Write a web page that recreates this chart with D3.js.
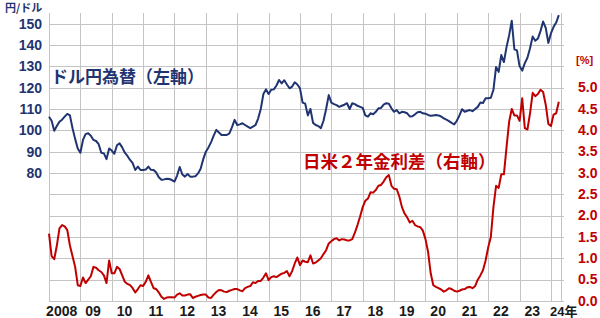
<!DOCTYPE html>
<html><head><meta charset="utf-8">
<script src="https://cdn.jsdelivr.net/npm/d3@7"></script>
<style>
html,body{margin:0;padding:0;background:#fff;}
svg{display:block;}
</style></head>
<body><svg id="c" width="600" height="318"></svg>
<script>
// ---- data (monthly, Jan 2008 – Apr 2024) ----
const startYear = 2008;
const usdjpy = [
 106.4,104.5,99.8,102,104,105,106.4,107.7,107,101,96,91.5,
 89.5,95.5,98.2,98.6,97.5,95.5,95,93.5,89.5,89.2,86.5,91.5,
 90.5,89,93,93.9,92,89.5,88,86.1,84.6,81.4,83,81.4,
 81.4,81.6,83,81.5,81.4,80.2,78,76.8,77,77.3,77.2,76.7,
 76,78.8,82.8,79.3,78.3,79.5,78.3,78.3,78.5,79.8,82,86.5,
 90,92,94.5,97.5,100.2,99,97.8,97.8,97.8,98.6,101.5,104.9,
 102.5,102.8,103.3,102.5,101.7,101,101.7,102.5,105.5,110,117,119.2,
 117,119,119.2,121,123.6,122,123.5,121.5,119.7,120.5,122.5,121.5,
 119.7,113,112.5,107,110,103.5,102.5,102,101,104.5,110,116.5,
 113,112.3,111.8,111,111.5,112,112.7,110,112.7,112.3,111.5,111,
 110.5,107,106.4,108,107.5,108.7,110.3,110.5,112,112.7,112.5,110.3,
 108.7,109.5,108,108.7,108.5,108,106.5,106.6,107.5,108.5,108.7,108,
 107.8,107.2,106.8,107,107.2,107,106.5,105.6,105,104.3,103.5,102.8,
 104.5,107,109.9,108.7,109.2,109.5,109,110,111,113,112.8,115,
 115,115.3,119,129.7,127.4,135.3,132,139,144.5,151.4,138,137.5,
 130,128,131.5,134,138.5,144,142,143,146.5,151,148,141,
 145.5,148.5,150.5,154
];
const spread = [
 1.58,1.05,0.98,1.3,1.7,1.78,1.75,1.66,1.3,1.05,0.8,0.37,
 0.35,0.55,0.42,0.5,0.58,0.8,0.78,0.72,0.68,0.6,0.42,0.95,
 0.65,0.65,0.8,0.75,0.6,0.45,0.4,0.37,0.3,0.2,0.28,0.37,
 0.35,0.45,0.6,0.45,0.3,0.28,0.2,0.1,0.05,0.08,0.09,0.09,
 0.08,0.15,0.18,0.13,0.13,0.15,0.16,0.07,0.1,0.12,0.14,0.15,
 0.15,0.08,0.07,0.15,0.21,0.26,0.25,0.22,0.21,0.24,0.26,0.28,
 0.28,0.25,0.23,0.3,0.33,0.35,0.44,0.42,0.47,0.47,0.55,0.65,
 0.49,0.56,0.58,0.56,0.6,0.64,0.66,0.7,0.58,0.7,0.88,1.02,
 0.84,0.95,0.92,0.91,1.07,0.88,0.9,0.95,1.0,1.1,1.19,1.35,
 1.4,1.45,1.47,1.42,1.45,1.44,1.42,1.42,1.45,1.6,1.78,1.98,
 2.2,2.35,2.4,2.55,2.54,2.6,2.7,2.72,2.8,2.9,2.95,2.7,
 2.63,2.62,2.45,2.2,2.05,1.96,1.84,1.88,1.78,1.75,1.73,1.65,
 1.45,1.15,0.65,0.37,0.33,0.3,0.27,0.22,0.25,0.3,0.28,0.24,
 0.22,0.24,0.27,0.28,0.32,0.33,0.3,0.35,0.5,0.6,0.72,0.95,
 1.26,1.5,2.2,2.7,2.65,2.97,2.97,3.6,4.2,4.5,4.35,4.35,
 4.22,4.75,4.05,4.02,4.4,4.88,4.8,4.85,4.95,4.9,4.6,4.15,
 4.1,4.37,4.4,4.67
];
const yearTicks = [2008,2009,2010,2011,2012,2013,2014,2015,2016,2017,2018,2019,2020,2021,2022,2023,2024];
const yearLabels = ["2008","09","10","11","12","13","14","15","16","17","18","19","20","21","22","23","24年"];
const leftTicks = [80,90,100,110,120,130,140,150];
const rightTicks = [0,0.5,1,1.5,2,2.5,3,3.5,4,4.5,5];
const leftUnit = "円/ドル", rightUnit = "[%]";
const label1 = "ドル円為替（左軸）", label2 = "日米２年金利差（右軸）";

// ---- drawing ----
const NAVY = "#1f3470", RED = "#c00000", GRID = "#c4c4c4";
const svg = d3.select("#c");
const L = 49, R = 561, T = 13, B = 301;
const x = d3.scaleLinear().domain([2008, 2024.32]).range([L, R]);
const yL = d3.scaleLinear().domain([20, 155]).range([B, T]);
const yR = d3.scaleLinear().domain([0, 6.75]).range([B, T]);
const font = "'Liberation Sans', Arial, sans-serif";
const cjk = "'Noto Sans CJK JP', sans-serif";

// grid
const g = svg.append("g");
g.selectAll("line.h").data(d3.range(20, 151, 10)).join("line")
  .attr("x1", L).attr("x2", R + 3).attr("y1", d => Math.round(yL(d)) + 0.5).attr("y2", d => Math.round(yL(d)) + 0.5)
  .attr("stroke", GRID).attr("stroke-width", 1);
g.selectAll("line.v").data(yearTicks.concat([2024.32])).join("line")
  .attr("x1", d => Math.round(x(d)) + 0.5).attr("x2", d => Math.round(x(d)) + 0.5)
  .attr("y1", T).attr("y2", B + 0.5)
  .attr("stroke", GRID).attr("stroke-width", 1);

// left axis labels
const axL = svg.append("g").attr("transform", `translate(${L - 7},0)`)
  .call(d3.axisLeft(yL).tickValues(leftTicks).tickSize(0).tickFormat(d3.format("d")));
axL.select(".domain").remove();
axL.selectAll("text").attr("fill", NAVY).attr("font-size", 14).attr("font-weight", "bold").attr("font-family", font).attr("x", 0);

// right axis labels
const axR = svg.append("g").attr("transform", `translate(${R + 17},0)`)
  .call(d3.axisRight(yR).tickValues(rightTicks).tickSize(0).tickFormat(d3.format(".1f")));
axR.select(".domain").remove();
axR.selectAll("text").attr("fill", RED).attr("font-size", 14).attr("font-weight", "bold").attr("font-family", font).attr("x", 0).attr("dy", "0.30em");

// x labels
svg.append("g").selectAll("text").data(yearTicks).join("text")
  .attr("x", (d, i) => i === yearTicks.length - 1 ? x(d) - 1 : x(d + 0.5) - 3)
  .attr("y", 316)
  .attr("text-anchor", (d, i) => i === yearTicks.length - 1 ? "start" : "middle")
  .attr("font-size", (d, i) => i === yearTicks.length - 1 ? 13 : 14)
  .attr("font-weight", "bold").attr("font-family", font + ", " + cjk)
  .attr("fill", "#1a1a1a")
  .text((d, i) => yearLabels[i]);

// units
svg.append("text").attr("x", 5).attr("y", 12).attr("font-size", 11).attr("font-weight", "bold")
  .attr("font-family", cjk).attr("fill", NAVY).text(leftUnit);
svg.append("text").attr("x", 576).attr("y", 64).attr("font-size", 11).attr("font-weight", "bold")
  .attr("font-family", font).attr("fill", RED).text(rightUnit);

// lines
const months = usdjpy.map((v, i) => startYear + i / 12);
const lineL = d3.line().x((d, i) => x(months[i])).y(d => yL(d));
const lineR = d3.line().x((d, i) => x(startYear + i / 12)).y(d => yR(d));
svg.append("path").datum(spread).attr("d", lineR).attr("fill", "none")
  .attr("stroke", RED).attr("stroke-width", 2).attr("stroke-linejoin", "round");
svg.append("path").datum(usdjpy).attr("d", lineL).attr("fill", "none")
  .attr("stroke", NAVY).attr("stroke-width", 2).attr("stroke-linejoin", "round");

// series labels
svg.append("text").attr("x", 51).attr("y", 83).attr("font-size", 17).attr("font-weight", "bold")
  .attr("font-family", cjk).attr("fill", NAVY).text(label1);
svg.append("text").attr("x", 303).attr("y", 168).attr("font-size", 17.5).attr("font-weight", "bold")
  .attr("font-family", cjk).attr("fill", RED).text(label2);
</script></body></html>
